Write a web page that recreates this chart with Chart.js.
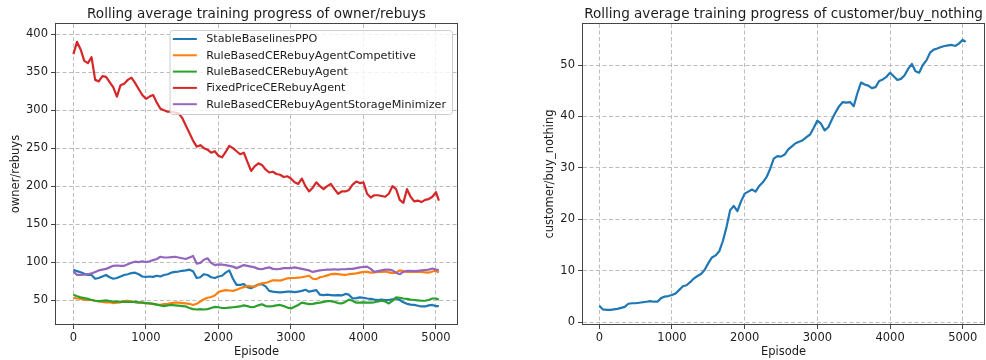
<!DOCTYPE html>
<html>
<head>
<meta charset="utf-8">
<script src="https://cdn.jsdelivr.net/npm/chart.js@4.4.1/dist/chart.umd.min.js"></script>
<style>
body { margin: 0; background: #fff; }
#wrap { position: relative; width: 986px; height: 360px; }
canvas { position: absolute; top: 0; }
</style>
</head>
<body>
<div id="wrap">
	<canvas id="rebuys_chart" width="493" height="360" style="left:0"></canvas>
	<canvas id="buy_nothing_chart" width="493" height="360" style="left:493px"></canvas>
</div>
<script>
const episodes = [0, 50, 100, 150, 200, 250, 300, 350, 400, 450,
	500, 550, 600, 650, 700, 750, 800, 850, 900, 950,
	1000, 1050, 1100, 1150, 1200, 1250, 1300, 1350, 1400, 1450,
	1500, 1550, 1600, 1650, 1700, 1750, 1800, 1850, 1900, 1950,
	2000, 2050, 2100, 2150, 2200, 2250, 2300, 2350, 2400, 2450,
	2500, 2550, 2600, 2650, 2700, 2750, 2800, 2850, 2900, 2950,
	3000, 3050, 3100, 3150, 3200, 3250, 3300, 3350, 3400, 3450,
	3500, 3550, 3600, 3650, 3700, 3750, 3800, 3850, 3900, 3950,
	4000, 4050, 4100, 4150, 4200, 4250, 4300, 4350, 4400, 4450,
	4500, 4550, 4600, 4650, 4700, 4750, 4800, 4850, 4900, 4950,
	5000, 5040]

const ppoRebuys = [90, 88, 86.5, 84.5, 83, 83, 78, 79, 81, 83,
	80, 78, 79, 81, 83, 84, 85.5, 86, 84, 81,
	80.5, 81, 80.5, 82, 81, 83, 84, 86, 87, 87.5,
	88.5, 89, 90, 88, 79, 80, 84, 83, 80, 79,
	81, 82, 86, 89, 78, 70, 70, 71, 67, 65.5,
	68, 70.5, 71, 68, 62, 61, 60.5, 60, 60.5, 61,
	61, 60.5, 61, 62, 63.5, 61, 62, 63, 57, 56.5,
	57, 56.5, 56, 56.5, 56, 58, 57, 52, 52.5, 53.5,
	53, 52, 51.5, 50.5, 50, 50.5, 50, 50, 51, 52,
	50, 47, 45, 44, 43.5, 42.5, 41.5, 41.5, 43, 43.5,
	42, 42]

const competitiveRebuys = [53, 52, 51.5, 50.5, 50, 50, 49, 48, 47.5, 47,
	47, 46, 46.5, 47, 48.5, 49, 48, 47, 46.5, 46.5,
	46, 45.5, 45, 44, 43.5, 44.5, 45, 46, 46.5, 46.5,
	46, 45.5, 45, 43.5, 45, 48, 51, 53, 54, 56,
	60.5, 62, 63, 62.5, 62, 63.5, 65.5, 67, 68.5, 68,
	67.5, 70, 72, 72.5, 74, 76, 76, 75.5, 77, 78.5,
	79, 79, 79.5, 80, 81, 82, 78, 77.5, 80, 81,
	82.5, 84, 84.5, 84, 83.5, 83, 84, 84.5, 85, 86,
	87, 87, 86, 86.5, 87, 87, 87.5, 86.5, 85.5, 86,
	89, 88, 87, 87, 87.5, 87, 87, 86.5, 86, 87.5,
	88.5, 86]

const ruleBasedRebuys = [57, 55, 53.5, 52.5, 51.5, 50, 49, 48.5, 49, 49.5,
	48.5, 48, 48, 47.5, 47.5, 47.5, 47.5, 47.5, 47, 46.5,
	46, 45.5, 45, 44, 43, 42, 43, 43.5, 43, 42.5,
	42, 41.5, 39.5, 38, 37.5, 38, 37.5, 38, 39.5, 41,
	40.5, 39.5, 39.5, 40, 40.5, 41, 41.5, 43, 42, 40.5,
	41, 43, 44.5, 42, 41.5, 42, 43, 43.5, 42, 40,
	39, 41, 43.5, 46.5, 45.5, 44.5, 45, 46, 46.5, 47.5,
	48.5, 48.5, 47.5, 46, 45.5, 47.5, 50.5, 49, 46.5, 46.5,
	47, 46.5, 46.5, 47, 48, 49, 48, 45.5, 49, 53.5,
	53, 52, 51.5, 50.5, 50, 49.5, 49, 49, 50, 52,
	52, 50.5]

const fixedPriceRebuys = [374, 390, 380, 365, 362, 370, 340, 338, 345, 344,
	337, 330, 318, 333, 335, 340, 343, 336, 328, 320,
	315, 318, 320, 310, 302, 300, 298, 298, 297, 296,
	290, 280, 270, 260, 252, 254, 250, 248, 244, 246,
	240, 238, 245, 253, 250, 246, 242, 244, 232, 220,
	226, 230, 228, 222, 218, 219, 216, 215, 212, 213,
	210, 205, 203, 210, 200, 193, 198, 205, 200, 196,
	200, 203, 196, 190, 193, 193, 195, 202, 206, 204,
	205, 190, 185, 188, 188, 187, 186, 190, 200, 196,
	182, 178, 196, 186, 180, 181, 179, 182, 183, 186,
	192, 181]

const storageMinRebuys = [88, 83, 83, 83.5, 84, 85, 87, 89, 90, 91,
	93, 95, 95.5, 95, 95, 97, 99, 100.5, 100, 101,
	100, 101, 102.5, 104, 107, 106, 106, 106.5, 107, 106,
	105, 104, 106, 108, 98, 99, 103, 105, 99, 96,
	97, 96.5, 96, 95, 94, 92, 94, 96, 95, 94,
	93, 91, 90.5, 92, 93, 91, 90.5, 91, 92, 92,
	92, 93, 92, 91, 90, 89, 87, 88, 89, 89.5,
	90, 90, 90.5, 90, 90.5, 90.5, 91, 91, 92, 93,
	93.5, 94, 91, 87, 88, 89, 90, 90, 89, 86,
	84, 87, 88.5, 88.5, 88, 88.5, 89, 89.5, 90, 91.5,
	90, 89.5]

const buyNothing = [3.2, 2.5, 2.4, 2.4, 2.5, 2.6, 2.8, 3.0, 3.6, 3.7,
	3.7, 3.8, 3.9, 4.0, 4.1, 4.0, 4.0, 4.7, 5.0, 5.1,
	5.3, 5.6, 6.3, 7.0, 7.2, 7.8, 8.5, 9.0, 9.4, 10.2,
	11.5, 12.6, 13.0, 13.8, 15.8, 18.5, 21.8, 22.6, 21.6, 23.5,
	25.0, 25.4, 25.8, 25.4, 26.5, 27.2, 28.2, 29.8, 31.8, 32.3,
	32.2, 32.6, 33.6, 34.2, 34.8, 35.1, 35.4, 36.0, 36.5, 37.8,
	39.2, 38.6, 37.3, 37.9, 39.4, 40.8, 42.0, 42.8, 42.7, 42.8,
	42.0, 44.5, 46.6, 46.2, 46.0, 45.5, 45.7, 46.9, 47.2, 47.7,
	48.5, 47.8, 47.1, 47.3, 48.0, 49.3, 50.2, 48.8, 48.5, 50.0,
	50.9, 52.4, 53.0, 53.2, 53.5, 53.7, 53.8, 53.9, 53.7, 54.2,
	54.9, 54.5]

const agentNames = ["StableBaselinesPPO", "RuleBasedCERebuyAgentCompetitive", "RuleBasedCERebuyAgent", "FixedPriceCERebuyAgent", "RuleBasedCERebuyAgentStorageMinimizer"]
const agentColors = ['#1f77b4', '#ff7f0e', '#2ca02c', '#d62728', '#9467bd']
const episodeTicks = [0, 1000, 2000, 3000, 4000, 5000]
const rebuyTicks = [50, 100, 150, 200, 250, 300, 350, 400]
const buyNothingTicks = [0, 10, 20, 30, 40, 50]

const FONT = '"DejaVu Sans", sans-serif'
const TEXT = '#1c1c1c'
const SPINE = '#444'

// frame, title and matplotlib style legend
const mplDecor = {
	id: 'mplDecor',
	afterDatasetsDraw(chart, args, opts) {
		const { ctx, chartArea: a } = chart
		ctx.save()
		ctx.strokeStyle = SPINE
		ctx.lineWidth = 1
		ctx.strokeRect(a.left - 0.5, a.top - 0.5, a.width + 1, a.height + 1)
		if (opts.legend) {
			ctx.font = '11.2px ' + FONT
			const sets = chart.data.datasets
			const textW = Math.max(...sets.map(d => ctx.measureText(d.label).width))
			const right = a.right - 5
			const left = right - (36.7 + textW + 6)
			const top = a.top + 6
			const h = 84
			ctx.beginPath()
			ctx.roundRect(left + 0.5, top + 0.5, right - left, h, 3)
			ctx.fillStyle = 'rgba(255,255,255,0.8)'
			ctx.fill()
			ctx.strokeStyle = '#cccccc'
			ctx.stroke()
			sets.forEach((d, i) => {
				const y = top + 9 + i * 16.3
				ctx.beginPath()
				ctx.moveTo(left + 3.3, y)
				ctx.lineTo(left + 27.3, y)
				ctx.strokeStyle = d.borderColor
				ctx.lineWidth = 2
				ctx.stroke()
				ctx.fillStyle = TEXT
				ctx.textBaseline = 'middle'
				ctx.textAlign = 'left'
				ctx.fillText(d.label, left + 36.7, y + 0.5)
			})
		}
		ctx.restore()
	},
	afterDraw(chart, args, opts) {
		const { ctx, chartArea: a } = chart
		ctx.save()
		ctx.font = '13.55px ' + FONT
		ctx.fillStyle = TEXT
		ctx.textAlign = 'center'
		ctx.textBaseline = 'middle'
		ctx.fillText(opts.title, (a.left + a.right) / 2, 14)
		ctx.restore()
	}
}

function axisOptions(ticks, min, max, title, fitKey, fitSize, titlePad) {
	return {
		type: 'linear',
		min, max,
		afterBuildTicks: s => { s.ticks = ticks.map(v => ({ value: v })) },
		afterFit: s => { s[fitKey] = fitSize },
		grid: { color: '#bdbdbd', lineWidth: 1, tickColor: SPINE, tickLength: 5, tickWidth: 1 },
		border: { display: false, dash: [4, 2.5] },
		ticks: { color: TEXT, padding: fitKey === 'height' ? 2 : 3, font: { family: FONT, size: 11.5 }, maxRotation: 0, callback: v => String(v) },
		title: { display: true, text: title, color: TEXT, font: { family: FONT, size: 11.5 }, padding: titlePad }
	}
}

function makeChart(canvasId, datasets, cfg) {
	new Chart(document.getElementById(canvasId), {
		type: 'line',
		data: { labels: episodes, datasets },
		options: {
			responsive: false,
			animation: false,
			devicePixelRatio: 1,
			layout: { padding: cfg.padding },
			elements: { point: { radius: 0 }, line: { borderWidth: 2.2, tension: 0, borderJoinStyle: 'round' } },
			plugins: {
				legend: { display: false },
				tooltip: { enabled: false },
				mplDecor: { title: cfg.title, legend: cfg.legend }
			},
			scales: {
				x: axisOptions(episodeTicks, cfg.xMin, cfg.xMax, 'Episode', 'height', 36, { top: 0, bottom: 1 }),
				y: axisOptions(cfg.yTicks, cfg.yMin, cfg.yMax, cfg.yTitle, 'width', 56, { top: cfg.yTitlePad })
			}
		},
		plugins: [mplDecor]
	})
}

const rebuySeries = [ppoRebuys, competitiveRebuys, ruleBasedRebuys, fixedPriceRebuys, storageMinRebuys]
makeChart('rebuys_chart', rebuySeries.map((data, i) => ({
	label: agentNames[i],
	data,
	borderColor: agentColors[i],
	order: rebuySeries.length - i
})), {
	title: 'Rolling average training progress of owner/rebuys',
	legend: true,
	padding: { left: 0, right: 36, top: 24, bottom: 0 },
	xMin: -240, xMax: 5290,
	yMin: 18.4, yMax: 413.6,
	yTicks: rebuyTicks,
	yTitle: 'owner/rebuys',
	yTitlePad: 9
})

makeChart('buy_nothing_chart', [{ label: 'customer/buy_nothing', data: buyNothing, borderColor: agentColors[0] }], {
	title: 'Rolling average training progress of customer/buy_nothing',
	legend: false,
	padding: { left: 34, right: 2, top: 24, bottom: 0 },
	xMin: -224, xMax: 5292,
	yMin: -0.33, yMax: 57.97,
	yTicks: buyNothingTicks,
	yTitle: 'customer/buy_nothing',
	yTitlePad: 16
})
</script>
</body>
</html>
